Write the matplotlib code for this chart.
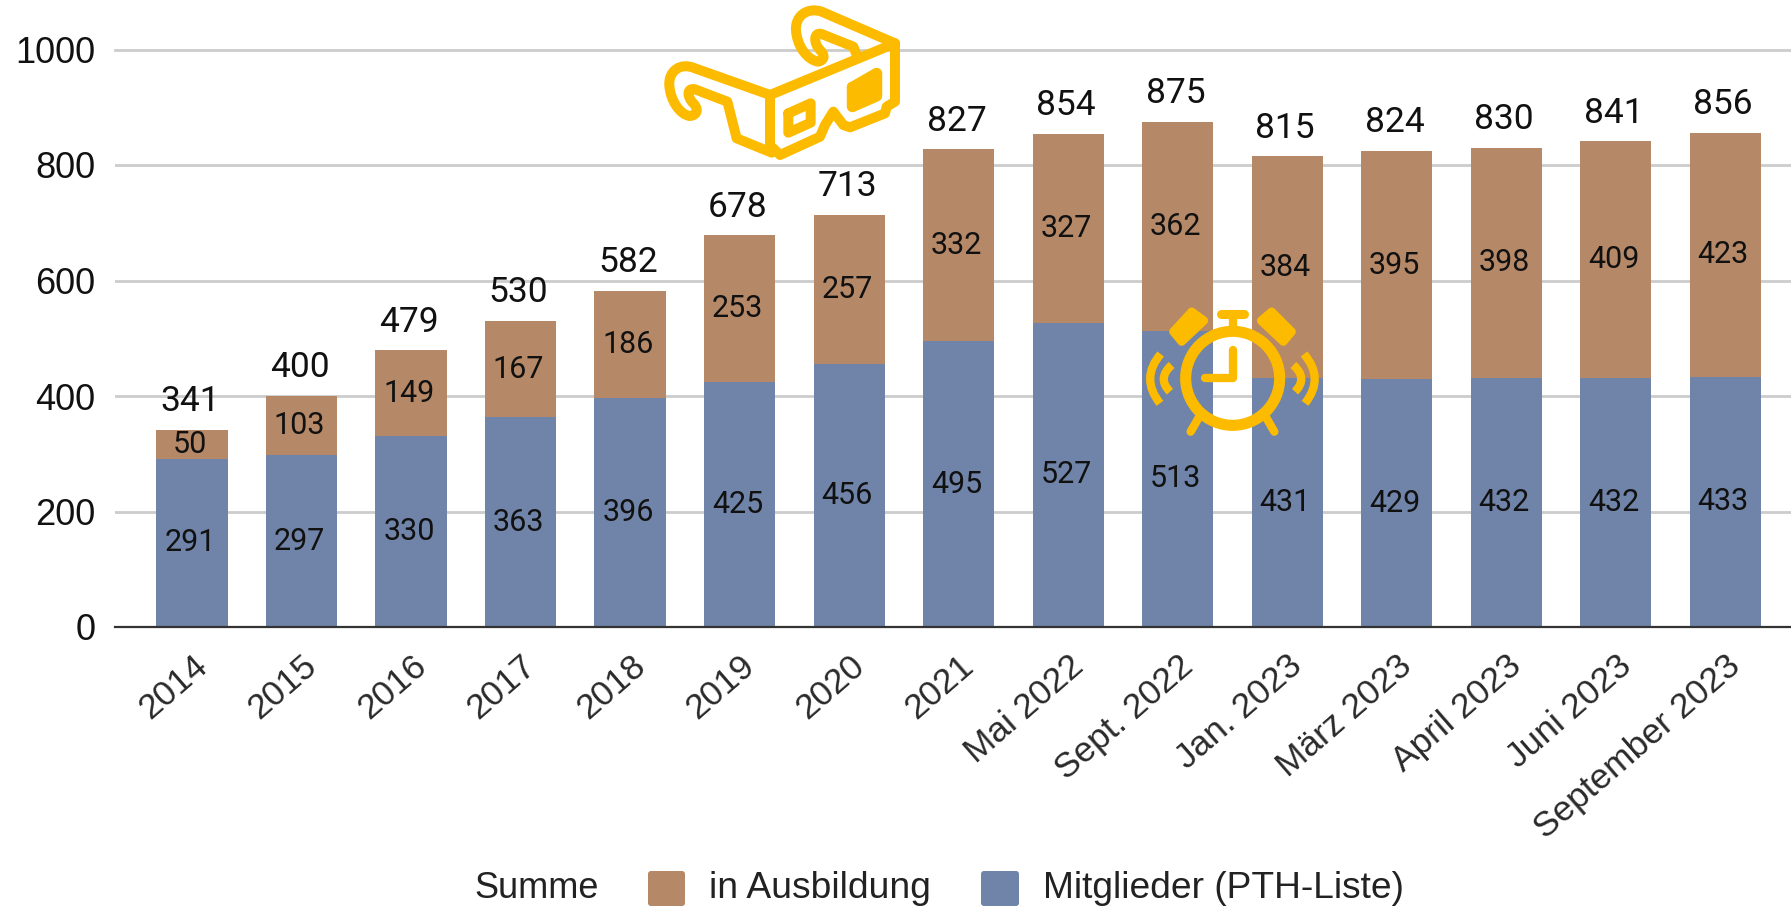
import matplotlib
matplotlib.use("Agg")
import matplotlib.pyplot as plt
from matplotlib.path import Path
from matplotlib.patches import PathPatch, Circle, FancyBboxPatch, Polygon

# values
labels = ['2014', '2015', '2016', '2017', '2018', '2019', '2020', '2021', 'Mai 2022', 'Sept. 2022',
          'Jan. 2023', 'März 2023', 'April 2023', 'Juni 2023', 'September 2023']
mitglieder = [291, 297, 330, 363, 396, 425, 456, 495, 527, 513, 431, 429, 432, 432, 433]
ausbildung = [50, 103, 149, 167, 186, 253, 257, 332, 327, 362, 384, 395, 398, 409, 423]
summe = [341, 400, 479, 530, 582, 678, 713, 827, 854, 875, 815, 824, 830, 841, 856]
yticks = [0, 200, 400, 600, 800, 1000]

BLUE = '#6f84a8'
BROWN = '#b58867'
GOLD = '#fdbb00'
W, H = 1791, 908

plt.rcParams['font.family'] = ['Liberation Sans', 'DejaVu Sans']
fig = plt.figure(figsize=(W / 100, H / 100), dpi=100)

# axes box in pixels of the image: left 115, baseline at 627, 1000 line at 49.5
ax = fig.add_axes([115 / W, 1 - 627 / H, (W - 115) / W, (627 - 49.5) / H])
x = list(range(len(labels)))
b1 = ax.bar(x, mitglieder, width=0.65, color=BLUE, zorder=2)
b2 = ax.bar(x, ausbildung, width=0.65, bottom=mitglieder, color=BROWN, zorder=2)
for bars in (b1, b2):
    for t in ax.bar_label(bars, label_type='center', fontsize=22, color='#111111', family='Roboto'):
        t.xyann = (-1.5, 0)
for i in x:
    ax.annotate(str(summe[i]), (i, summe[i]), xytext=(-1.5, 8.5), textcoords='offset points',
                ha='center', va='bottom', fontsize=25.5, color='#111111', family='Roboto')

ax.set_xlim(-0.703, 14.6)
ax.set_ylim(0, 1000)
ax.set_yticks(yticks)
ax.set_xticks(x)
ax.set_xticklabels(labels, rotation=41, ha='right', rotation_mode='anchor')
ax.tick_params(axis='y', length=0, pad=14, labelsize=26, labelcolor='#111111')
ax.tick_params(axis='x', length=0, pad=16, labelsize=25.4, labelcolor='#2a2a2a')
ax.grid(axis='y', color='#cccccc', linewidth=2, zorder=0)
ax.set_axisbelow(True)
for s in ['top', 'right', 'left']:
    ax.spines[s].set_visible(False)
ax.spines['bottom'].set_color('#333333')
ax.spines['bottom'].set_linewidth(1.6)
ax.spines['bottom'].set_zorder(3)
# the 1000 line sits right on the top edge
ax.get_ygridlines()[-1].set_clip_on(False)

# overlay in image pixels for legend and the two icons
ov = fig.add_axes([0, 0, 1, 1])
ov.set_xlim(0, W)
ov.set_ylim(H, 0)
ov.axis('off')
ov.patch.set_alpha(0)

ov.text(474, 888, 'Summe', fontsize=26, va='center', color='#222222')
ov.add_patch(FancyBboxPatch((648, 871), 37, 35, boxstyle='round,pad=0,rounding_size=3', fc=BROWN, ec='none'))
ov.text(709, 888, 'in Ausbildung', fontsize=26.8, va='center', color='#222222')
ov.add_patch(FancyBboxPatch((981, 871), 38, 35, boxstyle='round,pad=0,rounding_size=3', fc=BLUE, ec='none'))
ov.text(1043, 888, 'Mitglieder (PTH-Liste)', fontsize=26.7, va='center', color='#222222')


def stroke(verts, codes, lw, ox, oy, fill=False):
    pts = [(ox + a / 3, oy + b / 3) for a, b in verts]
    ov.add_patch(PathPatch(Path(pts, codes), fc=GOLD if fill else 'none', ec=GOLD, lw=lw,
                           capstyle='round', joinstyle='round', zorder=5))


M, L, C = Path.MOVETO, Path.LINETO, Path.CURVE4
Q = Path.CURVE3
hook_codes = [M, L] + [C] * 12 + [L, L, L]

# 3D glasses, zoom coordinates of the crop at (640, 0)
gx, gy = 640, 0
stroke([(390, 285), (765, 130), (765, 305), (740, 320), (735, 340), (630, 382), (610, 375), (580, 335),
        (555, 375), (540, 410), (420, 465), (400, 445), (390, 440), (390, 285)],
       [M] + [L] * 13, 7.2, gx, gy)
stroke([(385, 283), (165, 205), (120, 185), (85, 215), (88, 255), (90, 300), (120, 345), (150, 348),
        (175, 345), (175, 325), (160, 310), (140, 290), (140, 262), (165, 268),
        (262, 305), (290, 415), (395, 458)], hook_codes, 7.2, gx, gy)
stroke([(765, 130), (545, 35), (500, 20), (465, 50), (468, 90), (470, 135), (500, 180), (535, 185),
        (555, 180), (555, 165), (540, 150), (520, 130), (520, 95), (545, 102),
        (640, 140), (650, 165), (650, 165)], hook_codes, 7.2, gx, gy)
stroke([(445, 340), (512, 310), (512, 368), (445, 398), (445, 340)], [M, L, L, L, L], 7.2, gx, gy)
stroke([(637, 262), (710, 220), (710, 288), (637, 320), (637, 262)], [M, L, L, L, L], 8, gx, gy, fill=True)

# alarm clock, zoom coordinates of the crop at (1130, 290)
cx, cy = 1130, 290
ov.add_patch(Circle((cx + 308 / 3, cy + 265 / 3), 47, fc='none', ec=GOLD, lw=8, zorder=5))
stroke([(308, 180), (308, 265), (226, 265)], [M, L, L], 6, cx, cy)
stroke([(308, 110), (308, 72)], [M, L], 6, cx, cy)
stroke([(272, 72), (342, 72)], [M, L], 6.5, cx, cy)
stroke([(205, 385), (182, 425)], [M, L], 6, cx, cy)
stroke([(410, 385), (433, 425)], [M, L], 6, cx, cy)
for poly in ([(185, 65), (222, 92), (155, 155), (130, 125)], [(425, 65), (485, 125), (460, 155), (393, 92)]):
    ov.add_patch(Polygon([(cx + a / 3, cy + b / 3) for a, b in poly], closed=True, fc=GOLD, ec=GOLD,
                         lw=6, joinstyle='round', zorder=5))
for a, b, c in [((92, 192), (30, 265), (90, 340)), ((125, 225), (80, 265), (120, 305)),
                ((522, 192), (585, 265), (525, 340)), ((490, 225), (535, 265), (495, 305))]:
    pts = [(cx + p[0] / 3, cy + p[1] / 3) for p in (a, b, c)]
    ov.add_patch(PathPatch(Path(pts, [M, Q, Q]), fc='none', ec=GOLD, lw=6, capstyle='butt', zorder=5))

fig.savefig('out.png', dpi=100)
